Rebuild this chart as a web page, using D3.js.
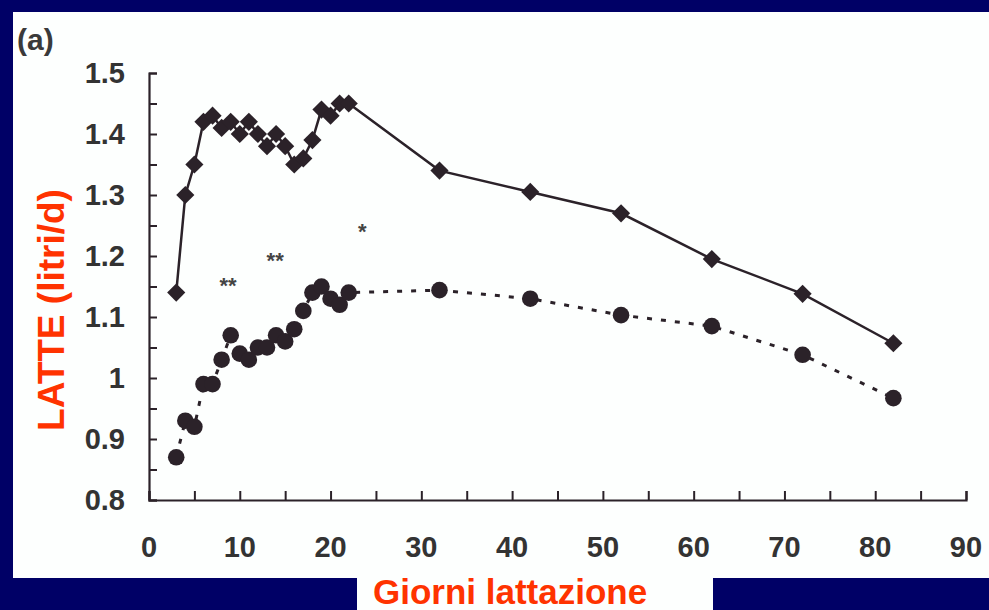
<!DOCTYPE html>
<html>
<head>
<meta charset="utf-8">
<script src="https://cdn.jsdelivr.net/npm/d3@7"></script>
<style>
  html, body { margin: 0; padding: 0; background: #000066; }
  svg { display: block; font-family: Arial, "Liberation Sans", sans-serif; }
</style>
</head>
<body>
<div id="chart"></div>
<script>
// days of lactation
const days = [3, 4, 5, 6, 7, 8, 9, 10, 11, 12, 13, 14, 15, 16, 17, 18, 19, 20, 21, 22, 32, 42, 52, 62, 72, 82];
// milk (litri/d) - diamond series, solid line
const milkDiamond = [1.14, 1.30, 1.35, 1.42, 1.43, 1.41, 1.42, 1.40, 1.42, 1.40, 1.38, 1.40, 1.38, 1.35, 1.36, 1.39, 1.44, 1.43, 1.45, 1.45, 1.34, 1.305, 1.27, 1.195, 1.138, 1.057];
// milk (litri/d) - circle series, dotted line
const milkCircle = [0.87, 0.93, 0.92, 0.99, 0.99, 1.03, 1.07, 1.04, 1.03, 1.05, 1.05, 1.07, 1.06, 1.08, 1.11, 1.14, 1.15, 1.13, 1.12, 1.14, 1.144, 1.13, 1.103, 1.085, 1.038, 0.967];
const xTickValues = [0, 10, 20, 30, 40, 50, 60, 70, 80, 90];
const yTickValues = [0.8, 0.9, 1.0, 1.1, 1.2, 1.3, 1.4, 1.5];
// significance marks
const starLabels = ["**", "**", "*"];
const starDays = [8.7, 13.9, 23.5];
const starMilk = [1.14, 1.18, 1.228];

const width = 989;
const height = 610;
const navy = "#000066";
const red = "#ff3300";
const ink = "#2b2229";

const svg = d3.select("#chart").append("svg").attr("width", width).attr("height", height);

// slide frame
svg.append("rect").attr("x", 0).attr("y", 0).attr("width", width).attr("height", height).attr("fill", navy);
svg.append("rect").attr("x", 13).attr("y", 12).attr("width", width - 13).attr("height", 566).attr("fill", "#fdfffe");
svg.append("rect").attr("x", 357).attr("y", 570).attr("width", 356).attr("height", 40).attr("fill", "#fdfffe");

const xScale = d3.scaleLinear().domain([0, 90]).range([149, 966]);
const yScale = d3.scaleLinear().domain([0.8, 1.5]).range([500, 73]);

// axes with inward ticks
const xAxis = d3.axisBottom(xScale).tickValues(d3.range(0, 91, 5)).tickSize(-9).tickFormat("");
const yAxis = d3.axisLeft(yScale).tickValues(d3.range(0.8, 1.501, 0.05)).tickSize(-8).tickFormat("");

const gx = svg.append("g").attr("transform", `translate(0, ${yScale(0.8)})`).call(xAxis);
const gy = svg.append("g").attr("transform", `translate(${xScale(0)}, 0)`).call(yAxis);
[gx, gy].forEach(g => {
    g.select(".domain").attr("stroke", ink).attr("stroke-width", 2.2);
    g.selectAll(".tick line").attr("stroke", ink).attr("stroke-width", 2);
});

svg.append("g").selectAll("text").data(xTickValues).enter().append("text")
    .attr("x", d => xScale(d)).attr("y", 557).attr("text-anchor", "middle")
    .attr("font-size", 29).attr("font-weight", "bold").attr("fill", "#333")
    .text(d => d);

svg.append("g").selectAll("text").data(yTickValues).enter().append("text")
    .attr("x", 125).attr("y", d => yScale(d) + 10).attr("text-anchor", "end")
    .attr("font-size", 29).attr("font-weight", "bold").attr("fill", "#333")
    .text(d => d === 1 ? "1" : d3.format(".1f")(d));

// axis titles
svg.append("text").attr("transform", "rotate(-90)").attr("x", -310).attr("y", 64)
    .attr("text-anchor", "middle").attr("font-size", 37).attr("font-weight", "bold").attr("fill", red)
    .text("LATTE (litri/d)");
svg.append("text").attr("x", 373).attr("y", 604)
    .attr("font-size", 35).attr("font-weight", "bold").attr("fill", red)
    .text("Giorni lattazione");

svg.append("text").attr("x", 17).attr("y", 50)
    .attr("font-size", 30).attr("font-weight", "bold").attr("fill", "#3a3a3a")
    .text("(a)");

const circles = days.map((d, i) => ({ day: d, milk: milkCircle[i] }));
const diamonds = days.map((d, i) => ({ day: d, milk: milkDiamond[i] }));

const line = d3.line().x(d => xScale(d.day)).y(d => yScale(d.milk));

svg.append("path").datum(circles).attr("fill", "none").attr("stroke", ink)
    .attr("stroke-width", 3).attr("stroke-dasharray", "5,9").attr("d", line);
svg.append("path").datum(diamonds).attr("fill", "none").attr("stroke", ink)
    .attr("stroke-width", 2.5).attr("d", line);

svg.append("g").selectAll("circle").data(circles).enter().append("circle")
    .attr("cx", d => xScale(d.day)).attr("cy", d => yScale(d.milk)).attr("r", 8.3)
    .attr("fill", ink);

const diamondShape = d3.symbol().type(d3.symbolSquare).size(165);
svg.append("g").selectAll("path").data(diamonds).enter().append("path")
    .attr("d", diamondShape)
    .attr("transform", d => `translate(${xScale(d.day)}, ${yScale(d.milk)}) rotate(45)`)
    .attr("fill", ink);

svg.append("g").selectAll("text").data(starLabels).enter().append("text")
    .attr("x", (d, i) => xScale(starDays[i])).attr("y", (d, i) => yScale(starMilk[i]))
    .attr("text-anchor", "middle").attr("font-size", 22).attr("font-weight", "bold").attr("fill", "#444")
    .text(d => d);
</script>
</body>
</html>
